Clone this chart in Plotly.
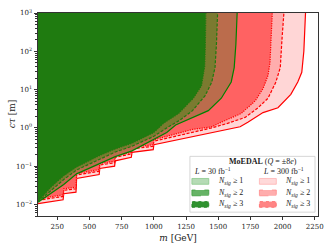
import numpy as np
import plotly.graph_objects as go

# ---------------- data ----------------
# 300 fb^-1, N_sig >= 1  (solid red)
m_r1 = [100, 200, 295, 300, 395, 400, 575, 580, 695, 700, 825, 830, 995, 1000, 1100, 1200, 1350, 1500, 1600, 1670, 1730, 1848, 1964, 2064, 2118, 2149, 2165, 2178]
ct_r1 = [0.0105, 0.0117, 0.0132, 0.0191, 0.0209, 0.0479, 0.0603, 0.0871, 0.100, 0.138, 0.170, 0.229, 0.269, 0.363, 0.427, 0.501, 0.631, 0.794, 0.933, 1.07, 1.41, 2.51, 3.35, 7.50, 15.8, 28.2, 100.0, 1000.0]
# 300 fb^-1, N_sig >= 2  (dashed red)
m_r2 = [100, 200, 295, 300, 395, 400, 575, 580, 695, 700, 825, 830, 995, 1000, 1100, 1200, 1350, 1450, 1578, 1709, 1809, 1887, 1948, 1982, 1995, 2010]
ct_r2 = [0.0129, 0.0145, 0.0162, 0.0234, 0.0257, 0.0589, 0.0741, 0.107, 0.123, 0.170, 0.209, 0.282, 0.331, 0.447, 0.537, 0.646, 0.832, 1.00, 1.33, 1.88, 3.35, 5.96, 15.8, 37.6, 200.0, 1000.0]
# 300 fb^-1, N_sig >= 3  (dotted red)
m_r3 = [100, 200, 295, 300, 395, 400, 575, 580, 695, 700, 825, 830, 995, 1000, 1100, 1200, 1300, 1447, 1524, 1678, 1786, 1848, 1887, 1902, 1912, 1920]
ct_r3 = [0.0141, 0.0158, 0.0178, 0.0257, 0.0282, 0.0646, 0.0813, 0.117, 0.135, 0.186, 0.229, 0.309, 0.363, 0.490, 0.603, 0.741, 0.912, 1.06, 1.41, 2.37, 5.01, 10.6, 23.7, 50.1, 200.0, 1000.0]
# 30 fb^-1, N_sig >= 1  (solid green)
m_g1 = [100, 300, 400, 580, 700, 830, 1000, 1100, 1169, 1292, 1423, 1524, 1601, 1624, 1637, 1647]
ct_g1 = [0.0115, 0.0331, 0.0631, 0.120, 0.178, 0.251, 0.490, 0.759, 1.19, 1.78, 2.82, 5.96, 15.8, 37.6, 150.0, 1000.0]
# 30 fb^-1, N_sig >= 2  (dashed green)
m_g2 = [100, 300, 400, 580, 700, 830, 1000, 1100, 1200, 1300, 1400, 1450, 1475, 1486, 1495]
ct_g2 = [0.0118, 0.0447, 0.0794, 0.151, 0.234, 0.331, 0.603, 1.00, 1.58, 2.82, 7.08, 15.8, 37.6, 150.0, 1000.0]
# 30 fb^-1, N_sig >= 3  (dotted green)
m_g3 = [100, 200, 300, 400, 500, 580, 700, 830, 1000, 1076, 1192, 1307, 1370, 1395, 1400, 1404]
ct_g3 = [0.0120, 0.0282, 0.0562, 0.0955, 0.141, 0.191, 0.282, 0.398, 0.759, 1.33, 2.37, 5.96, 12.6, 39.8, 150.0, 1000.0]

x_ticks = [250, 500, 750, 1000, 1250, 1500, 1750, 2000, 2250]
y_ticks = [0.01, 0.1, 1, 10, 100, 1000]
y_ticktext = ["10<sup>−2</sup>", "10<sup>−1</sup>", "10<sup>0</sup>", "10<sup>1</sup>", "10<sup>2</sup>", "10<sup>3</sup>"]

# ---------------- styling ----------------
FONT = "DejaVu Serif"
LFONT = "Liberation Serif"
W, H = 332, 249
L, R, T, B = 38, 12, 8, 30
PW, PH = W - L - R, H - T - B

def px(x):
    return (x - L) / PW

def py(y):
    return (H - B - y) / PH

fig = go.Figure()

layers = [
    (m_r1, ct_r1, "#ffd6d6", "#ff0000", "solid"),
    (m_r2, ct_r2, "#ffadad", "#ff0000", "3px,1.6px"),
    (m_r3, ct_r3, "#ff6262", "#ff0000", "1.2px,1.2px"),
    (m_g1, ct_g1, "#bb6c4c", "#008000", "solid"),
    (m_g2, ct_g2, "#7b7a30", "#1f7a0f", "3px,1.6px"),
    (m_g3, ct_g3, "#1f7b10", "#1f7a0f", "1.2px,1.2px"),
]

for mm, cc, fillc, linec, dash in layers:
    xs = [60] + list(mm) + [mm[-1], 60]
    ys = [cc[0]] + list(cc) + [5000, 5000]
    fig.add_trace(go.Scatter(x=xs, y=ys, mode="lines", fill="toself",
                             fillcolor=fillc, line=dict(width=0),
                             hoverinfo="skip", showlegend=False))
    fig.add_trace(go.Scatter(x=mm, y=cc, mode="lines",
                             line=dict(color=linec, width=1.2, dash=dash),
                             hoverinfo="skip", showlegend=False))

minor_vals = []
for e in range(-3, 3):
    for k in range(2, 10):
        minor_vals.append(k * 10 ** e)

fig.update_xaxes(range=[100, 2275], tickvals=x_ticks, ticks="outside", ticklen=3.5,
                 tickwidth=0.8, tickcolor="#333", showline=True, linecolor="#333",
                 linewidth=0.9, mirror=True, showgrid=False, zeroline=False,
                 tickfont=dict(family=FONT, size=7, color="#222"),
                 title=dict(text="<i>m</i> [GeV]", font=dict(family=FONT, size=9, color="#222"),
                            standoff=4))
fig.update_yaxes(type="log", range=[np.log10(0.005), 3], tickvals=y_ticks, ticktext=y_ticktext,
                 ticks="outside", ticklen=3.5, tickwidth=0.8, tickcolor="#333",
                 minor=dict(tickvals=minor_vals, ticks="outside", ticklen=2, tickwidth=0.6,
                            tickcolor="#333"),
                 showline=True, linecolor="#333", linewidth=0.9, mirror=True,
                 showgrid=False, zeroline=False,
                 tickfont=dict(family=FONT, size=7, color="#222"))

# ---------------- custom legend ----------------
shapes = []
annos = []
annos.append(dict(x=px(12), y=py(113), xref="paper", yref="paper", showarrow=False,
                  text="<i>cτ</i> [m]", textangle=-90, xanchor="center", yanchor="middle",
                  font=dict(family=FONT, size=9, color="#222")))
shapes.append(dict(type="rect", xref="paper", yref="paper",
                   x0=px(191), x1=px(317), y0=py(215), y1=py(157),
                   fillcolor="rgba(255,255,255,0.85)", line=dict(color="#cccccc", width=0.8),
                   layer="above"))
annos.append(dict(x=px(265), y=py(162), xref="paper", yref="paper", showarrow=False,
                  text="<b>MoEDAL</b> (<i>Q</i> = ±8<i>e</i>)", xanchor="center", yanchor="middle",
                  font=dict(family=LFONT, size=8, color="#222")))
annos.append(dict(x=px(214), y=py(172.5), xref="paper", yref="paper", showarrow=False,
                  text="<i>L</i> = 30 fb<sup>−1</sup>", xanchor="center", yanchor="middle",
                  font=dict(family=LFONT, size=8, color="#222")))
annos.append(dict(x=px(285), y=py(172.5), xref="paper", yref="paper", showarrow=False,
                  text="<i>L</i> = 300 fb<sup>−1</sup>", xanchor="center", yanchor="middle",
                  font=dict(family=LFONT, size=8, color="#222")))

leg_rows = [
    (183, "#b5dbb5", "#8cc98c", "#ffd9d9", "#ffb3b3", "solid", "1"),
    (195, "#66b366", "#3d9e3d", "#ffadad", "#ff8a8a", "dash", "2"),
    (207, "#2f922f", "#1a801a", "#ff8585", "#ff6666", "dot", "3"),
]
for yc, gf, ge, rf, re_, dsh, n in leg_rows:
    for x0, x1, fc, ec in [(193, 210, gf, ge), (261, 278, rf, re_)]:
        shapes.append(dict(type="rect", xref="paper", yref="paper",
                           x0=px(x0), x1=px(x1), y0=py(yc + 3), y1=py(yc - 3),
                           fillcolor=fc, line=dict(color=ec, width=0.8, dash=dsh),
                           layer="above"))
    for xt in [217, 285]:
        annos.append(dict(x=px(xt), y=py(yc), xref="paper", yref="paper", showarrow=False,
                          text="<i>N</i><sub><i>sig</i></sub> ≥ " + n, xanchor="left",
                          yanchor="middle", font=dict(family=LFONT, size=8, color="#222")))

fig.update_layout(width=W, height=H, margin=dict(l=L, r=R, t=T, b=B),
                  paper_bgcolor="white", plot_bgcolor="white",
                  shapes=shapes, annotations=annos, showlegend=False)

fig.write_html("out.html", config={"displayModeBar": False},
               post_script="document.body.style.margin='0';document.body.style.padding='0';")
